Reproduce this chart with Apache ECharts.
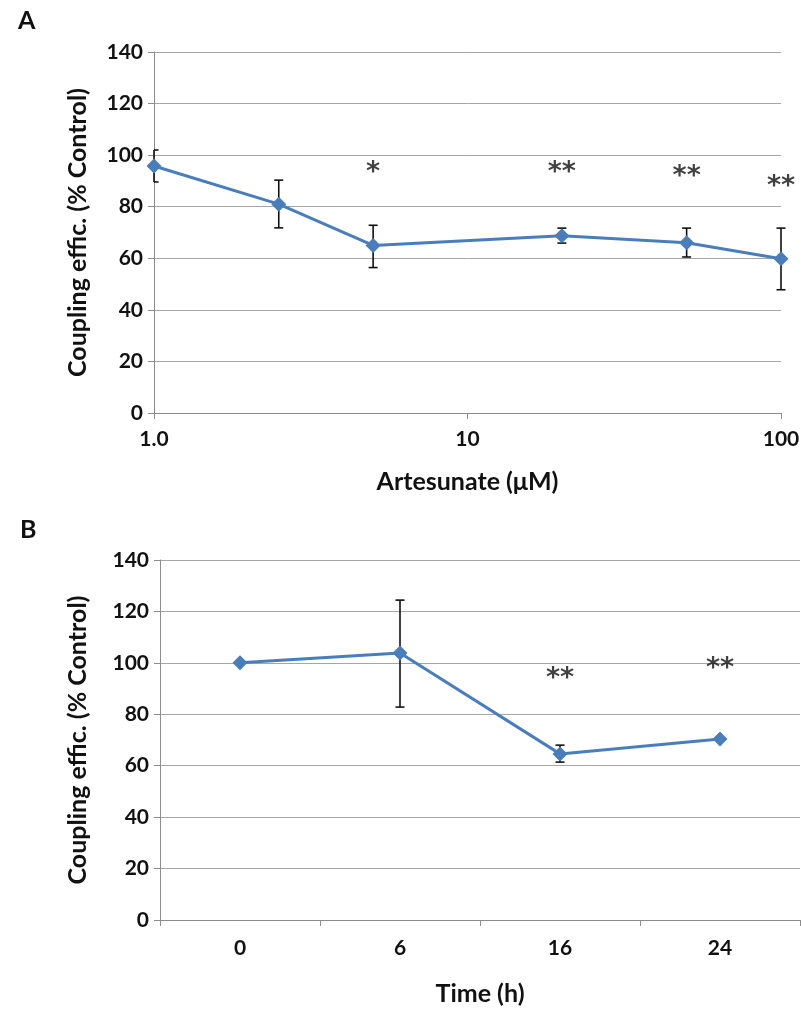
<!DOCTYPE html>
<html>
<head>
<meta charset="utf-8">
<script src="https://cdn.jsdelivr.net/npm/echarts/dist/echarts.min.js"></script>
<style>
  html, body { margin: 0; padding: 0; background: #fff; }
  #main { width: 801px; height: 1012px; }
</style>
</head>
<body>
<div id="main"></div>
<script>
// panel A: artesunate dose (log scale)
const doseA = [1, 2.5, 5, 20, 50, 100]
const meanA = [95.8, 81, 65, 68.7, 66, 59.8]
const lowA = [89.6, 71.8, 56.4, 65.9, 60.5, 47.8]
const highA = [102, 90.3, 72.8, 71.7, 71.7, 71.7]
const starsA = ['*', '**', '**', '**']
const starDoseA = [5, 20, 50, 100]
const starYA = [95.5, 95.5, 94, 90]

// panel B: time course
const timesB = ['0', '6', '16', '24']
const meanB = [100, 103.8, 64.6, 70.4]
const lowB = [null, 82.8, 61.4, null]
const highB = [null, 124.4, 68, null]
const starsB = ['**', '**']
const starIdxB = [2, 3]
const starYB = [96, 100]

const FONT = 'Lato'
const BLUE = '#4a7ebb'
const GRIDC = '#a6a6a6'

function errorBars(xs, lo, hi) {
  return xs.map((x, i) => [x, lo[i], hi[i]]).filter(d => d[1] != null)
}

function renderErr(params, api) {
  const x = api.value(0)
  const p1 = api.coord([x, api.value(1)])
  const p2 = api.coord([x, api.value(2)])
  const cs = params.coordSys
  const half = 4.5
  const l = Math.max(p1[0] - half, cs.x)
  const r = p1[0] + half
  const style = { stroke: '#111', lineWidth: 1.6, fill: null }
  return {
    type: 'group',
    children: [
      { type: 'line', shape: { x1: p1[0], y1: p1[1], x2: p2[0], y2: p2[1] }, style },
      { type: 'line', shape: { x1: l, y1: p1[1], x2: r, y2: p1[1] }, style },
      { type: 'line', shape: { x1: l, y1: p2[1], x2: r, y2: p2[1] }, style }
    ]
  }
}

const tickLabel = { fontFamily: FONT, fontWeight: 'bold', fontSize: 21, color: '#111' }
const nameStyle = { fontFamily: FONT, fontWeight: 'bold', fontSize: 25, color: '#111' }
const starLabel = {
  show: true, position: 'inside', formatter: p => p.value[2],
  fontFamily: 'DejaVu Sans', fontWeight: 'bold', fontSize: 27, color: '#111', offset: [0, 6]
}

function yAxisFor(gridIndex, gap) {
  return {
    type: 'value', gridIndex, min: 0, max: 140, interval: 20,
    name: 'Coupling effic. (% Control)', nameLocation: 'middle', nameGap: gap,
    nameTextStyle: nameStyle,
    axisLine: { show: true, lineStyle: { color: '#8c8c8c', width: 1 } },
    axisTick: { show: true, length: 6, lineStyle: { color: '#8c8c8c' } },
    axisLabel: Object.assign({ margin: 11 }, tickLabel),
    splitLine: { lineStyle: { color: GRIDC, width: 1 } }
  }
}

const chart = echarts.init(document.getElementById('main'))
chart.setOption({
  animation: false,
  backgroundColor: '#fff',
  title: [
    { text: 'A', left: 13, top: 3, textStyle: { fontFamily: FONT, fontWeight: 'bold', fontSize: 25, color: '#111' } },
    { text: 'B', left: 15, top: 512, textStyle: { fontFamily: FONT, fontWeight: 'bold', fontSize: 25, color: '#111' } }
  ],
  grid: [
    { left: 154, top: 52, width: 627, height: 361, outerBoundsMode: 'none' },
    { left: 160, top: 560, width: 640, height: 360, outerBoundsMode: 'none' }
  ],
  xAxis: [
    {
      type: 'log', gridIndex: 0, min: 1, max: 100, logBase: 10,
      name: 'Artesunate (\u03bcM)', nameLocation: 'middle', nameGap: 56,
      nameTextStyle: nameStyle,
      axisLine: { show: true, lineStyle: { color: '#8c8c8c' } },
      axisTick: { show: true, length: 6, lineStyle: { color: '#8c8c8c' } },
      axisLabel: Object.assign({
        margin: 16,
        formatter: v => (Math.round(v) === 1 ? '1.0' : String(Math.round(v)))
      }, tickLabel),
      splitLine: { show: false },
      minorTick: { show: false }
    },
    {
      type: 'category', gridIndex: 1, data: timesB, boundaryGap: true,
      name: 'Time (h)', nameLocation: 'middle', nameGap: 61,
      nameTextStyle: nameStyle,
      axisLine: { show: true, lineStyle: { color: '#8c8c8c' } },
      axisTick: { show: true, length: 6, alignWithLabel: false, lineStyle: { color: '#8c8c8c' } },
      axisLabel: Object.assign({ margin: 18 }, tickLabel),
      splitLine: { show: false }
    }
  ],
  yAxis: [yAxisFor(0, 64), yAxisFor(1, 70)],
  series: [
    {
      type: 'custom', xAxisIndex: 0, yAxisIndex: 0, z: 3,
      renderItem: renderErr, data: errorBars(doseA, lowA, highA)
    },
    {
      type: 'line', xAxisIndex: 0, yAxisIndex: 0, z: 4,
      data: doseA.map((d, i) => [d, meanA[i]]),
      symbol: 'diamond', symbolSize: 15,
      lineStyle: { color: BLUE, width: 3 },
      itemStyle: { color: BLUE }
    },
    {
      type: 'scatter', xAxisIndex: 0, yAxisIndex: 0, symbolSize: 0,
      data: starDoseA.map((d, i) => [d, starYA[i], starsA[i]]),
      label: starLabel
    },
    {
      type: 'custom', xAxisIndex: 1, yAxisIndex: 1, z: 3,
      renderItem: renderErr, data: errorBars(timesB.map((t, i) => i), lowB, highB)
    },
    {
      type: 'line', xAxisIndex: 1, yAxisIndex: 1, z: 4,
      data: meanB,
      symbol: 'diamond', symbolSize: 15,
      lineStyle: { color: BLUE, width: 3 },
      itemStyle: { color: BLUE }
    },
    {
      type: 'scatter', xAxisIndex: 1, yAxisIndex: 1, symbolSize: 0,
      data: starIdxB.map((d, i) => [d, starYB[i], starsB[i]]),
      label: starLabel
    }
  ]
})
</script>
</body>
</html>
